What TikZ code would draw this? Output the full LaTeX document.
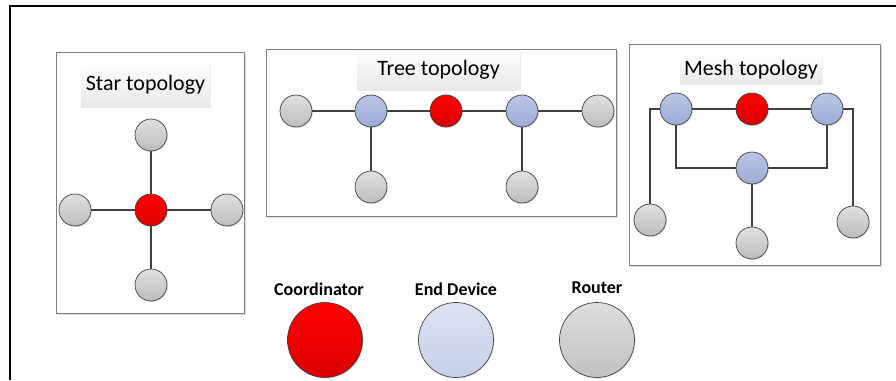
\documentclass[tikz,border=0pt]{standalone}
\usepackage{fontspec}
\setmainfont{Carlito}
\usetikzlibrary{shadows}
\definecolor{edgec}{HTML}{404040}
\definecolor{boxc}{HTML}{7F7F7F}
\tikzset{
  topobox/.style={draw=boxc, line width=0.8pt, fill=white, drop shadow={opacity=0.25, shadow xshift=1.5pt, shadow yshift=-1.5pt}},
  titlebox/.style={draw=none, top color=white, bottom color=black!9, minimum height=#1, inner sep=0pt, font=\fontsize{22}{24}\selectfont, drop shadow={opacity=0.12, shadow xshift=1pt, shadow yshift=-1pt}},
  dev/.style={circle, draw=edgec, line width=0.7pt, minimum size=32pt, inner sep=0pt, drop shadow={opacity=0.2, shadow xshift=1pt, shadow yshift=-1pt}},
  router/.style={dev, top color=black!12, bottom color=black!26},
  enddev/.style={dev, top color={rgb,255:red,186;green,197;blue,230}, bottom color={rgb,255:red,157;green,171;blue,214}},
  coord/.style={dev, top color={rgb,255:red,255;green,0;blue,0}, bottom color={rgb,255:red,218;green,0;blue,0}},
  link/.style={draw=edgec, line width=1.2pt},
  legendlbl/.style={font=\bfseries\fontsize{18}{20}\selectfont},
}
\begin{document}
\begin{tikzpicture}[x=1pt,y=-1pt]
\useasboundingbox (0,0) rectangle (896,380);
% outer frame
\draw[line width=2pt, black] (896,6) -- (10,6) -- (10,380);

% ---------- Star ----------
\node[topobox, minimum width=188pt, minimum height=261pt, inner sep=0pt] (starbox) at (150,182.5) {};
\node[titlebox=45pt, minimum width=129pt] (startitle) at (145.5,84.5) {Star topology};
\node[coord] (sc) at (151,210) {};
\node[router] (st) at (151,135) {};
\node[router] (sb) at (151,285) {};
\node[router] (sl) at (75,210) {};
\node[router] (sr) at (227,210) {};
\draw[link] (sc) -- (st);
\draw[link] (sc) -- (sb);
\draw[link] (sc) -- (sl);
\draw[link] (sc) -- (sr);

% ---------- Tree ----------
\node[topobox, minimum width=350pt, minimum height=167pt, inner sep=0pt] (treebox) at (441,132.5) {};
\node[titlebox=40pt, minimum width=163pt] (treetitle) at (438.5,70) {Tree topology};
\node[router] (t1) at (296,111) {};
\node[enddev] (t2) at (371,111) {};
\node[coord] (t3) at (446,111) {};
\node[enddev] (t4) at (522,111) {};
\node[router] (t5) at (598,111) {};
\node[router] (t6) at (371,187) {};
\node[router] (t7) at (522,187) {};
\draw[link] (t1) -- (t2);
\draw[link] (t2) -- (t3);
\draw[link] (t3) -- (t4);
\draw[link] (t4) -- (t5);
\draw[link] (t2) -- (t6);
\draw[link] (t4) -- (t7);

% ---------- Mesh ----------
\node[topobox, minimum width=251pt, minimum height=221pt, inner sep=0pt] (meshbox) at (755,154.5) {};
\node[titlebox=29pt, minimum width=142pt] (meshtitle) at (751,69.5) {Mesh topology};
\node[enddev] (m1) at (676,109) {};
\node[coord] (m2) at (752,109) {};
\node[enddev] (m3) at (827,109) {};
\node[enddev] (m4) at (752,168) {};
\node[router] (m5) at (650,220) {};
\node[router] (m6) at (752,243) {};
\node[router] (m7) at (853,222) {};
\draw[link] (m1) -- (m2);
\draw[link] (m2) -- (m3);
\draw[link] (m1.west) -| (m5.north);
\draw[link] (m3.east) -| (m7.north);
\draw[link] (m1.south) |- (m4.west);
\draw[link] (m3.south) |- (m4.east);
\draw[link] (m4) -- (m6);

% ---------- Legend ----------
\node[legendlbl] (lc) at (319,289) {Coordinator};
\node[legendlbl] (le) at (456,289) {End Device};
\node[legendlbl] (lr) at (597,288) {Router};
\node[coord, minimum size=75pt] (cc) at (325,340) {};
\node[dev, minimum size=75pt, top color={rgb,255:red,222;green,227;blue,243}, bottom color={rgb,255:red,198;green,207;blue,233}] (ce) at (456,340) {};
\node[dev, minimum size=75pt, top color=black!13, bottom color=black!24] (cr) at (597,340) {};
\end{tikzpicture}
\end{document}
